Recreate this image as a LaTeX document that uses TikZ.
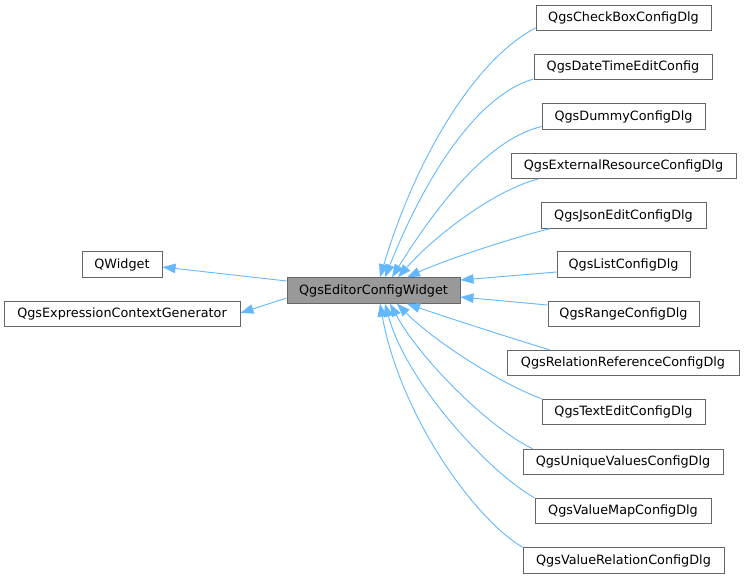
\documentclass[tikz,border=0pt]{standalone}
\usepackage{fontspec}
\setmainfont{DejaVu Sans}
\usetikzlibrary{arrows.meta}
\definecolor{edgeblue}{HTML}{63B8FF}
\definecolor{boxgray}{HTML}{666666}
\definecolor{mainfill}{HTML}{999999}
\begin{document}
\begin{tikzpicture}[x=1pt,y=-1pt,
  cls/.style={draw=boxgray,line width=1pt,fill=white,inner sep=0pt,minimum height=25.5pt,
    font=\fontsize{12.8}{15}\selectfont,text=black},
  maincls/.style={cls,fill=mainfill},
  inh/.style={draw=edgeblue,line width=0.9pt,-{Triangle[length=13pt,width=9.5pt,fill=edgeblue]}}]
\useasboundingbox (0,0) rectangle (744,579);
\fill[white] (0,0) rectangle (744,579);
% nodes
\node[cls,minimum width=80pt] (qw) at (122,264.5) {QWidget};
\node[cls,minimum width=236pt] (ecg) at (122,314) {QgsExpressionContextGenerator};
\node[maincls,minimum width=173pt] (ecw) at (373.5,290.5) {QgsEditorConfigWidget};
\node[cls,minimum width=175pt] (cb) at (623.5,18) {QgsCheckBoxConfigDlg};
\node[cls,minimum width=178pt] (dt) at (623,67) {QgsDateTimeEditConfig};
\node[cls,minimum width=163pt] (du) at (623.5,116.5) {QgsDummyConfigDlg};
\node[cls,minimum width=225pt] (er) at (623.5,166) {QgsExternalResourceConfigDlg};
\node[cls,minimum width=165pt] (js) at (623.5,215.5) {QgsJsonEditConfigDlg};
\node[cls,minimum width=133pt] (li) at (623.5,264.5) {QgsListConfigDlg};
\node[cls,minimum width=151pt] (ra) at (623.5,314) {QgsRangeConfigDlg};
\node[cls,minimum width=232pt] (rr) at (623,363) {QgsRelationReferenceConfigDlg};
\node[cls,minimum width=163pt] (te) at (623.5,412) {QgsTextEditConfigDlg};
\node[cls,minimum width=200pt] (uv) at (623,462) {QgsUniqueValuesConfigDlg};
\node[cls,minimum width=176pt] (vm) at (623,511) {QgsValueMapConfigDlg};
\node[cls,minimum width=201pt] (vr) at (623.5,560.5) {QgsValueRelationConfigDlg};
% edges to parents
\draw[inh] ([yshift=9.5pt]ecw.west) -- ([yshift=-2.5pt]qw.east);
\draw[inh] ([yshift=-7.5pt]ecw.west) -- ([yshift=1pt]ecg.east);
% edges from children
\draw[inh] ([yshift=-10pt]cb.west) .. controls +(-60,31) and +(36,-120) .. ([xshift=6.5pt]ecw.north);
\draw[inh] ([yshift=-12pt]dt.west) .. controls +(-55,16) and +(42,-105) .. ([xshift=11.5pt]ecw.north);
\draw[inh] ([yshift=-10pt]du.west) .. controls +(-50,12) and +(50,-80) .. ([xshift=18.5pt]ecw.north);
\draw[inh] ([xshift=27pt]er.south west) .. controls +(-40,10) and +(40,-45) .. ([xshift=24.5pt]ecw.north);
\draw[inh] ([xshift=9pt]js.south west) .. controls +(-40,10) and +(40,-18) .. ([xshift=33.5pt]ecw.north);
\draw[inh] ([yshift=-7.5pt]li.west) -- ([yshift=10.5pt]ecw.east);
\draw[inh] ([yshift=9pt]ra.west) -- ([yshift=-6.5pt]ecw.east);
\draw[inh] ([xshift=43pt]rr.north west) .. controls +(-40,-12) and +(35,12) .. ([xshift=33.5pt]ecw.south);
\draw[inh] (te.north west) .. controls +(-40,-15) and +(40,40) .. ([xshift=23.5pt]ecw.south);
\draw[inh] ([xshift=10pt]uv.north west) .. controls +(-45,-22) and +(30,55) .. ([xshift=16.5pt]ecw.south);
\draw[inh] (vm.north west) .. controls +(-45,-25) and +(22,80) .. ([xshift=11.5pt]ecw.south);
\draw[inh] (vr.north west) .. controls +(-50,-30) and +(20,110) .. ([xshift=6.5pt]ecw.south);
\end{tikzpicture}
\end{document}
